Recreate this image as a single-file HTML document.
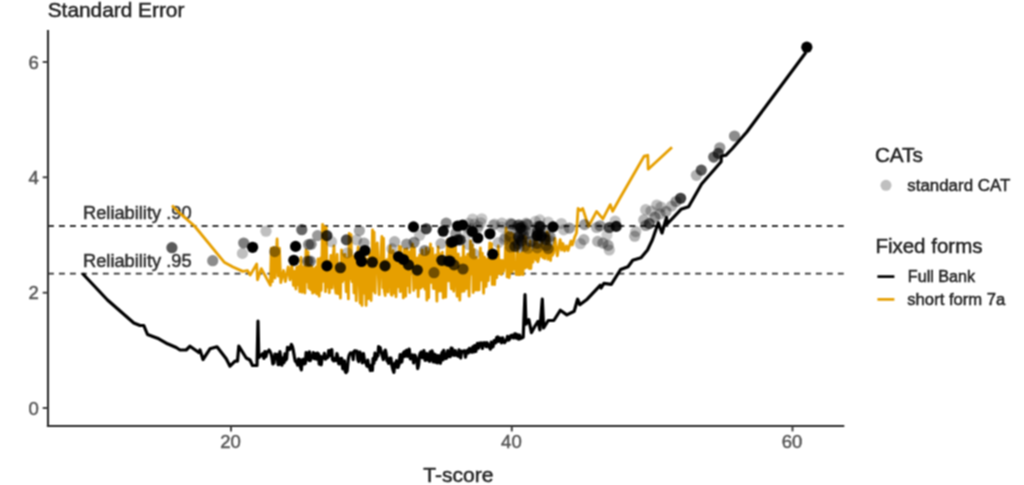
<!DOCTYPE html>
<html lang="en"><head><meta charset="utf-8"><title>Standard Error vs T-score</title>
<style>html,body{margin:0;padding:0;background:#fff;}body{width:1024px;height:485px;overflow:hidden;}svg{display:block;font-family:"Liberation Sans",Arial,Helvetica,sans-serif;}text{stroke-width:.5px;paint-order:stroke;}</style></head><body>
<svg width="1024" height="485" viewBox="0 0 1024 485">
<defs><filter id="soft" x="-2%" y="-2%" width="104%" height="104%" color-interpolation-filters="sRGB"><feConvolveMatrix order="3" kernelMatrix="0.0672 0.1248 0.0672 0.1248 0.2319 0.1248 0.0672 0.1248 0.0672" edgeMode="duplicate" preserveAlpha="true"/></filter></defs>
<rect width="1024" height="485" fill="#fff"/>
<g filter="url(#soft)">
<rect x="-20" y="-20" width="1064" height="525" fill="#fff"/>
<line x1="48.0" y1="226.0" x2="844.3" y2="226.0" stroke="#333" stroke-width="1.8" stroke-dasharray="5.9 5.07"/>
<line x1="48.0" y1="273.7" x2="844.3" y2="273.7" stroke="#333" stroke-width="1.8" stroke-dasharray="5.9 5.07"/>
<text x="83.0" y="219.0" font-size="18.25" fill="#2e2e2e" stroke="#2e2e2e">Reliability .90</text>
<text x="83.0" y="266.8" font-size="18.25" fill="#2e2e2e" stroke="#2e2e2e">Reliability .95</text>
<path d="M82.5 273.5 L107.5 300.0 L133.8 323.0 L140.0 325.5 L143.8 325.5 L147.5 334.5 L158.8 338.8 L167.5 343.8 L176.2 347.5 L180.0 350.0 L186.2 350.0 L190.0 346.2 L198.8 352.5 L200.0 350.0 L203.0 359.5 L210.0 348.8 L217.0 346.8 L226.2 358.8 L230.0 366.2 L235.0 361.2 L237.5 361.2 L238.8 346.2 L246.2 358.0 L250.0 360.0 L252.5 365.5 L257.0 365.5 L258.0 321.2 L258.8 357.5 L262.5 353.8 L264.0 358.4 L264.9 351.5 L265.9 356.6 L267.1 351.9 L268.1 351.6 L269.1 350.0 L269.8 351.1 L270.8 353.1 L271.8 356.8 L272.9 363.9 L273.9 363.1 L275.0 354.0 L276.1 358.0 L277.1 354.4 L278.1 364.7 L279.1 364.4 L279.9 351.7 L280.7 357.4 L281.9 365.2 L283.2 357.9 L284.0 362.6 L284.9 353.8 L285.7 360.2 L286.6 358.9 L287.5 347.3 L288.5 348.0 L289.6 349.5 L290.5 347.5 L291.4 344.5 L292.4 346.7 L293.2 350.0 L294.4 356.8 L295.3 361.1 L296.5 362.2 L297.7 365.2 L298.5 359.0 L299.6 359.5 L300.6 367.5 L301.4 369.9 L302.2 360.1 L303.2 359.3 L304.4 363.9 L305.3 363.3 L306.1 352.5 L307.0 354.4 L307.7 353.1 L308.7 360.3 L309.5 351.9 L310.2 360.7 L311.3 356.9 L312.4 357.5 L313.3 352.5 L314.2 358.7 L315.3 353.6 L316.5 359.1 L317.5 353.1 L318.4 354.0 L319.2 364.2 L320.1 356.1 L321.2 364.9 L322.3 356.9 L323.4 358.2 L324.4 353.3 L325.5 359.2 L326.6 357.9 L327.8 357.5 L328.7 350.5 L329.7 355.6 L330.7 350.4 L331.8 349.7 L332.5 359.7 L333.7 360.9 L334.6 358.4 L335.8 360.6 L336.9 353.5 L337.7 356.7 L338.7 363.9 L339.5 363.9 L340.4 358.8 L341.6 358.3 L342.8 368.9 L343.6 362.7 L344.4 360.9 L345.3 371.5 L346.0 372.6 L347.1 371.0 L348.3 359.1 L349.2 355.1 L350.4 353.0 L351.2 353.4 L352.3 352.9 L353.2 359.6 L354.0 351.6 L354.9 350.7 L355.9 351.5 L356.9 351.1 L357.8 359.5 L358.7 361.5 L359.9 352.0 L360.6 354.1 L361.5 354.5 L362.3 362.9 L363.5 353.7 L364.6 361.8 L365.8 362.8 L367.0 366.1 L367.8 360.0 L368.7 366.8 L369.5 367.2 L370.4 370.5 L371.4 365.2 L372.4 370.4 L373.1 358.4 L373.9 363.4 L375.0 353.2 L375.8 359.7 L376.9 356.3 L377.9 356.0 L378.6 346.5 L379.4 349.1 L380.1 347.5 L380.9 350.8 L382.1 355.1 L383.3 359.5 L384.2 353.0 L385.3 350.1 L386.1 353.7 L387.0 360.7 L387.8 361.4 L388.6 363.3 L389.8 358.1 L390.9 358.0 L391.8 365.2 L392.9 369.4 L393.9 372.4 L394.8 363.2 L395.7 364.3 L396.6 360.7 L397.3 367.3 L398.0 367.4 L399.1 364.0 L400.2 354.5 L400.9 359.0 L401.8 362.0 L402.8 354.1 L404.0 352.0 L404.7 356.4 L405.6 351.2 L406.7 350.3 L407.5 356.3 L408.4 355.2 L409.2 349.0 L410.3 358.9 L411.4 357.6 L412.5 354.9 L413.6 363.0 L414.8 355.1 L415.9 357.1 L416.9 361.5 L417.7 368.6 L418.6 365.0 L419.6 355.3 L420.3 353.0 L421.3 351.9 L422.0 357.6 L422.8 357.6 L423.9 350.7 L425.1 360.3 L425.9 360.1 L426.9 353.7 L427.7 359.9 L428.8 354.1 L429.5 361.3 L430.2 351.8 L431.1 359.6 L432.1 350.9 L433.1 361.8 L434.3 354.0 L435.0 362.1 L435.9 355.1 L436.7 362.6 L437.5 362.9 L438.5 355.5 L439.7 361.4 L440.4 363.3 L441.3 355.0 L442.3 352.1 L443.0 360.0 L443.7 350.4 L444.9 356.1 L445.7 358.5 L446.7 358.0 L447.8 350.7 L448.5 356.4 L449.3 355.6 L450.2 356.5 L451.1 348.1 L452.2 348.3 L452.9 355.0 L454.0 355.3 L455.2 350.6 L456.1 355.0 L457.2 355.5 L458.1 356.1 L459.0 349.9 L459.7 356.4 L460.7 358.0 L461.6 351.0 L462.5 351.8 L463.2 351.9 L464.4 350.7 L465.5 357.2 L466.6 351.8 L467.5 350.2 L468.5 352.9 L469.5 348.4 L470.6 351.2 L471.6 352.2 L472.8 346.8 L473.7 351.9 L474.7 345.6 L475.9 351.4 L476.7 345.5 L477.5 343.4 L478.6 348.2 L479.7 343.1 L480.6 343.2 L481.4 343.0 L482.4 348.4 L483.2 343.2 L484.4 342.6 L485.2 343.4 L486.1 346.7 L487.0 342.7 L487.8 344.1 L488.7 346.9 L489.5 347.2 L490.3 349.2 L491.2 342.2 L492.3 347.1 L493.1 346.6 L494.1 340.5 L494.9 340.5 L495.7 342.9 L496.7 337.4 L497.7 337.0 L498.5 341.5 L499.2 338.1 L500.3 338.1 L501.5 342.8 L502.7 337.9 L503.5 340.8 L504.6 342.6 L505.8 340.6 L506.5 340.2 L507.5 336.3 L508.6 340.1 L509.7 339.0 L510.8 335.5 L512.0 335.2 L513.1 337.9 L514.1 337.8 L514.8 333.8 L515.5 333.9 L516.7 338.2 L517.6 334.7 L518.7 339.2 L519.5 335.0 L520.4 338.6 L523.2 337.2 L525.0 294.5 L526.0 324.2 L528.8 319.6 L531.5 332.6 L535.0 326.0 L538.0 321.4 L539.9 329.8 L542.3 299.2 L543.6 327.9 L548.2 320.5 L553.8 320.5 L560.3 310.3 L566.8 314.9 L574.2 311.2 L577.6 299.2 L579.8 304.7 L587.2 299.2 L600.2 285.3 L601.1 288.0 L603.9 283.4 L611.3 284.3 L620.6 269.5 L628.0 266.7 L632.7 260.2 L641.0 257.8 L647.5 250.0 L652.3 240.0 L658.3 222.8 L662.0 233.0 L666.5 217.5 L667.2 224.0 L681.0 209.3 L688.6 206.8 L701.6 184.0 L721.1 161.7 L721.3 156.2 L725.8 155.3 L732.4 148.5 L746.8 132.0 L767.4 104.3 L806.0 52.2" fill="none" stroke="#000" stroke-width="3.2" stroke-linejoin="round" stroke-linecap="butt"/>
<path d="M172.0 205.5 L180.6 213.9 L194.5 226.0 L224.2 262.2 L233.0 267.0 L242.8 271.4 L247.4 270.5 L250.2 275.1 L256.7 264.0 L257.5 279.8 L261.3 268.6 L270.4 285.3 L271.3 248.2 L272.3 281.6 L273.6 247.3 L275.0 278.0 L277.1 239.0 L278.2 276.0 L279.4 248.2 L280.8 282.6 L283.6 270.5 L285.4 281.6 L288.2 266.8 L290.0 279.8 L291.9 264.0 L293.4 285.3 L294.5 271.3 L295.9 289.0 L296.7 267.5 L297.6 284.9 L298.7 266.5 L299.8 291.8 L301.0 257.5 L302.1 292.3 L303.4 267.0 L304.9 293.0 L306.0 250.0 L307.0 281.8 L308.0 251.8 L308.8 288.1 L309.6 265.2 L310.7 289.7 L311.6 266.4 L312.6 293.1 L313.7 268.6 L314.6 292.1 L316.0 267.1 L316.8 293.9 L318.0 258.8 L319.2 296.2 L320.5 258.2 L321.3 290.4 L322.6 224.5 L323.6 281.4 L324.5 226.7 L325.5 291.7 L326.2 227.5 L327.1 287.1 L328.1 261.0 L329.3 292.8 L330.8 255.3 L332.1 288.0 L333.0 258.6 L334.0 246.0 L335.1 285.9 L335.9 293.2 L337.2 254.5 L338.1 293.8 L339.5 266.0 L340.4 298.1 L341.5 250.0 L342.5 281.7 L343.3 255.0 L344.0 279.5 L344.9 254.4 L346.2 291.8 L347.4 258.3 L348.4 298.9 L349.2 233.5 L349.9 278.9 L351.0 234.7 L352.0 281.7 L353.0 256.4 L354.0 292.9 L355.3 254.4 L356.2 300.7 L357.1 258.9 L358.2 247.0 L359.2 282.0 L360.1 303.0 L361.1 256.1 L362.0 305.4 L363.0 253.8 L364.4 293.3 L365.2 257.1 L366.1 305.4 L367.1 259.4 L368.4 298.6 L369.6 252.9 L371.1 300.5 L372.5 229.8 L373.3 290.9 L374.1 232.2 L375.1 293.1 L375.9 250.1 L377.3 242.8 L378.3 275.2 L379.2 294.7 L380.6 257.0 L381.9 236.3 L382.8 287.7 L383.5 238.3 L384.3 290.8 L385.2 295.5 L386.7 259.7 L388.1 292.0 L389.1 256.5 L390.2 246.0 L391.2 294.5 L391.9 295.2 L393.1 250.7 L394.0 293.0 L394.9 259.1 L396.0 296.8 L397.3 258.8 L398.1 286.8 L399.3 246.5 L400.2 291.6 L400.9 246.9 L401.6 291.2 L402.4 256.0 L403.3 297.9 L404.4 249.3 L405.7 296.2 L406.9 249.0 L407.9 285.5 L408.8 251.9 L409.7 292.5 L411.2 250.5 L412.6 244.0 L413.7 290.4 L414.4 247.8 L415.4 281.5 L416.4 288.0 L417.3 257.9 L418.2 296.7 L419.6 254.9 L420.7 288.1 L422.2 250.0 L423.1 286.5 L424.0 256.3 L425.0 289.1 L426.1 248.1 L426.9 300.2 L427.8 251.9 L428.7 297.6 L429.5 261.2 L430.5 244.0 L431.4 282.3 L432.5 248.5 L433.4 288.4 L434.2 288.6 L435.6 254.8 L436.9 301.2 L438.1 247.0 L439.0 291.2 L439.8 253.9 L441.3 291.0 L442.4 252.2 L443.2 297.9 L444.3 259.3 L445.7 297.2 L446.8 254.5 L447.7 240.0 L448.4 280.9 L449.4 245.8 L450.4 274.7 L451.3 288.8 L452.2 245.9 L453.7 291.3 L454.6 243.8 L455.4 243.0 L456.3 281.3 L457.1 296.3 L458.3 254.0 L459.8 300.1 L461.1 257.9 L462.2 291.4 L463.4 246.0 L464.2 291.2 L465.1 256.9 L466.4 288.5 L467.6 254.2 L469.1 296.1 L470.5 241.0 L471.6 274.1 L472.4 244.9 L473.2 292.5 L473.9 249.3 L474.8 290.1 L476.2 257.3 L477.3 290.1 L478.3 260.1 L479.1 289.9 L480.4 248.0 L481.4 280.1 L482.4 253.2 L483.6 293.3 L484.6 257.2 L486.1 286.5 L487.5 258.8 L488.3 280.6 L489.7 243.0 L490.4 274.3 L491.5 243.6 L492.3 284.5 L493.2 256.7 L494.6 284.7 L495.8 260.5 L496.8 277.7 L498.3 246.0 L499.3 273.4 L500.3 260.4 L501.3 274.5 L502.6 260.3 L503.5 271.4 L505.0 262.2 L506.1 227.8 L507.1 276.9 L508.1 232.1 L509.1 277.5 L510.1 270.6 L511.1 233.0 L512.2 271.9 L513.2 234.4 L514.2 269.1 L515.2 264.0 L516.4 274.5 L517.4 240.0 L518.4 274.8 L519.4 254.4 L520.3 274.6 L521.7 252.9 L523.0 274.7 L524.0 236.0 L524.8 268.2 L525.8 237.3 L526.6 267.3 L527.6 247.4 L529.1 268.4 L530.1 241.0 L530.9 268.5 L531.9 250.9 L533.0 262.1 L534.2 245.7 L535.2 236.0 L536.1 259.8 L536.9 237.9 L537.8 261.8 L538.7 258.6 L539.6 244.8 L540.8 256.1 L542.2 240.0 L543.1 257.6 L543.9 246.2 L544.7 258.5 L546.1 243.0 L547.1 232.0 L547.8 259.3 L548.7 235.0 L549.5 254.5 L550.6 260.5 L551.5 246.4 L552.4 255.4 L553.5 253.0 L555.0 238.5 L557.3 255.8 L558.8 247.0 L560.2 239.6 L561.6 250.0 L563.0 243.5 L564.5 251.0 L566.5 246.0 L568.0 250.5 L569.4 246.0 L571.0 241.0 L572.3 245.0 L574.6 237.3 L576.5 233.0 L578.1 208.5 L580.5 210.5 L582.7 208.5 L588.5 226.4 L596.6 211.4 L602.9 218.9 L610.3 204.6 L612.6 211.3 L620.0 198.0 L644.1 156.2 L647.8 155.3 L648.2 169.2 L672.0 147.3" fill="none" stroke="#E69F00" stroke-width="2.8" stroke-linejoin="round" stroke-linecap="butt"/>
<g fill="#000">
<circle cx="171.9" cy="247.7" r="5.6" fill-opacity="0.65"/>
<circle cx="212.7" cy="260.7" r="5.6" fill-opacity="0.45"/>
<circle cx="243.7" cy="243.0" r="5.6" fill-opacity="0.50"/>
<circle cx="242.4" cy="253.4" r="5.6" fill-opacity="0.25"/>
<circle cx="252.6" cy="247.3" r="5.6" fill-opacity="1.00"/>
<circle cx="266.0" cy="231.2" r="5.6" fill-opacity="0.25"/>
<circle cx="274.7" cy="251.6" r="5.6" fill-opacity="0.40"/>
<circle cx="295.6" cy="246.4" r="5.6" fill-opacity="1.00"/>
<circle cx="293.8" cy="260.3" r="5.6" fill-opacity="1.00"/>
<circle cx="301.8" cy="229.7" r="5.6" fill-opacity="0.60"/>
<circle cx="308.6" cy="244.5" r="5.6" fill-opacity="0.45"/>
<circle cx="307.7" cy="261.2" r="5.6" fill-opacity="0.50"/>
<circle cx="311.1" cy="244.2" r="5.6" fill-opacity="0.45"/>
<circle cx="317.6" cy="235.6" r="5.6" fill-opacity="0.40"/>
<circle cx="326.9" cy="235.6" r="5.6" fill-opacity="0.80"/>
<circle cx="331.5" cy="241.7" r="5.6" fill-opacity="0.25"/>
<circle cx="310.2" cy="261.2" r="5.6" fill-opacity="0.50"/>
<circle cx="326.9" cy="265.9" r="5.6" fill-opacity="1.00"/>
<circle cx="340.4" cy="267.7" r="5.6" fill-opacity="0.80"/>
<circle cx="346.4" cy="239.9" r="5.6" fill-opacity="0.70"/>
<circle cx="347.3" cy="252.9" r="5.6" fill-opacity="0.25"/>
<circle cx="359.4" cy="230.6" r="5.6" fill-opacity="0.35"/>
<circle cx="356.6" cy="239.9" r="5.6" fill-opacity="0.25"/>
<circle cx="364.0" cy="243.0" r="5.6" fill-opacity="0.35"/>
<circle cx="364.9" cy="250.5" r="5.6" fill-opacity="1.00"/>
<circle cx="359.5" cy="256.0" r="5.6" fill-opacity="1.00"/>
<circle cx="361.5" cy="261.5" r="5.6" fill-opacity="1.00"/>
<circle cx="372.4" cy="262.2" r="5.6" fill-opacity="0.90"/>
<circle cx="385.0" cy="265.9" r="5.6" fill-opacity="0.90"/>
<circle cx="394.6" cy="241.7" r="5.6" fill-opacity="0.30"/>
<circle cx="391.8" cy="248.6" r="5.6" fill-opacity="0.25"/>
<circle cx="398.5" cy="256.6" r="5.6" fill-opacity="1.00"/>
<circle cx="403.5" cy="259.5" r="5.6" fill-opacity="1.00"/>
<circle cx="408.5" cy="264.9" r="5.6" fill-opacity="0.90"/>
<circle cx="417.3" cy="270.1" r="5.6" fill-opacity="0.85"/>
<circle cx="406.7" cy="244.0" r="5.6" fill-opacity="0.40"/>
<circle cx="414.1" cy="242.3" r="5.6" fill-opacity="0.45"/>
<circle cx="413.5" cy="226.9" r="5.6" fill-opacity="1.00"/>
<circle cx="419.7" cy="235.3" r="5.6" fill-opacity="0.25"/>
<circle cx="426.2" cy="228.8" r="5.6" fill-opacity="0.75"/>
<circle cx="424.7" cy="250.5" r="5.6" fill-opacity="0.45"/>
<circle cx="434.0" cy="272.7" r="5.6" fill-opacity="0.50"/>
<circle cx="446.2" cy="223.2" r="5.6" fill-opacity="0.45"/>
<circle cx="443.2" cy="231.2" r="5.6" fill-opacity="0.95"/>
<circle cx="451.2" cy="242.3" r="5.6" fill-opacity="0.90"/>
<circle cx="441.0" cy="243.6" r="5.6" fill-opacity="0.30"/>
<circle cx="441.9" cy="260.3" r="5.6" fill-opacity="0.90"/>
<circle cx="448.4" cy="261.2" r="5.6" fill-opacity="0.80"/>
<circle cx="457.7" cy="226.0" r="5.6" fill-opacity="1.00"/>
<circle cx="455.8" cy="233.4" r="5.6" fill-opacity="0.40"/>
<circle cx="457.7" cy="239.9" r="5.6" fill-opacity="0.80"/>
<circle cx="454.0" cy="264.9" r="5.6" fill-opacity="0.70"/>
<circle cx="462.6" cy="225.0" r="5.6" fill-opacity="1.00"/>
<circle cx="472.3" cy="231.5" r="5.6" fill-opacity="1.00"/>
<circle cx="477.8" cy="238.0" r="5.6" fill-opacity="1.00"/>
<circle cx="452.8" cy="241.7" r="5.6" fill-opacity="1.00"/>
<circle cx="460.2" cy="239.9" r="5.6" fill-opacity="0.80"/>
<circle cx="489.9" cy="233.8" r="5.6" fill-opacity="1.00"/>
<circle cx="492.7" cy="254.2" r="5.6" fill-opacity="1.00"/>
<circle cx="463.0" cy="269.0" r="5.6" fill-opacity="0.60"/>
<circle cx="450.0" cy="261.2" r="5.6" fill-opacity="0.90"/>
<circle cx="553.0" cy="226.9" r="5.6" fill-opacity="1.00"/>
<circle cx="537.2" cy="235.6" r="5.6" fill-opacity="0.90"/>
<circle cx="520.5" cy="227.8" r="5.6" fill-opacity="0.80"/>
<circle cx="518.6" cy="237.1" r="5.6" fill-opacity="0.70"/>
<circle cx="514.9" cy="246.4" r="5.6" fill-opacity="0.60"/>
<circle cx="806.8" cy="47.2" r="5.6" fill-opacity="1.00"/>
<circle cx="734.5" cy="136.0" r="5.6" fill-opacity="0.45"/>
<circle cx="719.8" cy="147.8" r="5.6" fill-opacity="0.40"/>
<circle cx="718.3" cy="153.4" r="5.6" fill-opacity="0.65"/>
<circle cx="713.7" cy="157.1" r="5.6" fill-opacity="0.60"/>
<circle cx="701.3" cy="170.1" r="5.6" fill-opacity="0.65"/>
<circle cx="696.4" cy="175.3" r="5.6" fill-opacity="0.30"/>
<circle cx="680.6" cy="198.3" r="5.6" fill-opacity="0.75"/>
<circle cx="676.0" cy="201.5" r="5.6" fill-opacity="0.40"/>
<circle cx="671.6" cy="206.0" r="5.6" fill-opacity="0.30"/>
<circle cx="666.0" cy="211.5" r="5.6" fill-opacity="0.35"/>
<circle cx="656.8" cy="205.0" r="5.6" fill-opacity="0.25"/>
<circle cx="645.7" cy="209.7" r="5.6" fill-opacity="0.25"/>
<circle cx="654.9" cy="217.1" r="5.6" fill-opacity="0.40"/>
<circle cx="649.4" cy="223.6" r="5.6" fill-opacity="0.60"/>
<circle cx="643.8" cy="219.9" r="5.6" fill-opacity="0.30"/>
<circle cx="645.7" cy="225.5" r="5.6" fill-opacity="0.40"/>
<circle cx="661.0" cy="207.0" r="5.6" fill-opacity="0.25"/>
<circle cx="651.0" cy="211.0" r="5.6" fill-opacity="0.25"/>
<circle cx="660.0" cy="214.0" r="5.6" fill-opacity="0.30"/>
<circle cx="494.5" cy="224.1" r="5.6" fill-opacity="0.25"/>
<circle cx="501.9" cy="223.2" r="5.6" fill-opacity="0.25"/>
<circle cx="512.2" cy="224.1" r="5.6" fill-opacity="0.25"/>
<circle cx="526.1" cy="223.2" r="5.6" fill-opacity="0.25"/>
<circle cx="539.1" cy="226.0" r="5.6" fill-opacity="0.25"/>
<circle cx="544.6" cy="237.1" r="5.6" fill-opacity="0.25"/>
<circle cx="548.3" cy="248.2" r="5.6" fill-opacity="0.25"/>
<circle cx="505.7" cy="237.1" r="5.6" fill-opacity="0.25"/>
<circle cx="498.2" cy="242.7" r="5.6" fill-opacity="0.25"/>
<circle cx="468.6" cy="244.5" r="5.6" fill-opacity="0.25"/>
<circle cx="474.1" cy="253.8" r="5.6" fill-opacity="0.25"/>
<circle cx="531.6" cy="241.7" r="5.6" fill-opacity="0.25"/>
<circle cx="538.1" cy="243.6" r="5.6" fill-opacity="0.25"/>
<circle cx="520.5" cy="233.4" r="5.6" fill-opacity="0.25"/>
<circle cx="514.9" cy="239.9" r="5.6" fill-opacity="0.25"/>
<circle cx="527.9" cy="248.2" r="5.6" fill-opacity="0.25"/>
<circle cx="561.4" cy="223.5" r="5.6" fill-opacity="0.25"/>
<circle cx="563.7" cy="229.8" r="5.6" fill-opacity="0.25"/>
<circle cx="569.4" cy="228.1" r="5.6" fill-opacity="0.40"/>
<circle cx="584.5" cy="224.6" r="5.6" fill-opacity="0.40"/>
<circle cx="583.9" cy="239.6" r="5.6" fill-opacity="0.30"/>
<circle cx="580.4" cy="243.7" r="5.6" fill-opacity="0.25"/>
<circle cx="596.6" cy="227.5" r="5.6" fill-opacity="0.30"/>
<circle cx="600.0" cy="225.8" r="5.6" fill-opacity="0.40"/>
<circle cx="609.3" cy="227.5" r="5.6" fill-opacity="0.70"/>
<circle cx="616.2" cy="226.4" r="5.6" fill-opacity="0.90"/>
<circle cx="615.1" cy="221.2" r="5.6" fill-opacity="0.25"/>
<circle cx="597.7" cy="241.4" r="5.6" fill-opacity="0.30"/>
<circle cx="602.9" cy="243.1" r="5.6" fill-opacity="0.35"/>
<circle cx="608.1" cy="245.4" r="5.6" fill-opacity="0.35"/>
<circle cx="609.3" cy="250.0" r="5.6" fill-opacity="0.25"/>
<circle cx="607.0" cy="235.0" r="5.6" fill-opacity="0.20"/>
<circle cx="634.7" cy="236.2" r="5.6" fill-opacity="0.30"/>
<circle cx="635.8" cy="231.6" r="5.6" fill-opacity="0.25"/>
<circle cx="540.0" cy="226.4" r="5.6" fill-opacity="0.80"/>
<circle cx="541.2" cy="236.2" r="5.6" fill-opacity="0.80"/>
<circle cx="545.8" cy="239.6" r="5.6" fill-opacity="0.40"/>
<circle cx="548.1" cy="248.9" r="5.6" fill-opacity="0.25"/>
<circle cx="501.9" cy="227.2" r="5.6" fill-opacity="0.22"/>
<circle cx="517.2" cy="225.8" r="5.6" fill-opacity="0.22"/>
<circle cx="469.2" cy="228.8" r="5.6" fill-opacity="0.22"/>
<circle cx="539.8" cy="219.9" r="5.6" fill-opacity="0.22"/>
<circle cx="470.5" cy="228.7" r="5.6" fill-opacity="0.22"/>
<circle cx="510.6" cy="223.3" r="5.6" fill-opacity="0.22"/>
<circle cx="478.4" cy="226.3" r="5.6" fill-opacity="0.22"/>
<circle cx="526.3" cy="224.1" r="5.6" fill-opacity="0.22"/>
<circle cx="472.6" cy="219.0" r="5.6" fill-opacity="0.22"/>
<circle cx="468.6" cy="223.3" r="5.6" fill-opacity="0.22"/>
<circle cx="480.8" cy="222.8" r="5.6" fill-opacity="0.22"/>
<circle cx="525.4" cy="230.7" r="5.6" fill-opacity="0.22"/>
<circle cx="474.2" cy="224.1" r="5.6" fill-opacity="0.22"/>
<circle cx="549.7" cy="236.6" r="5.6" fill-opacity="0.22"/>
<circle cx="477.6" cy="228.3" r="5.6" fill-opacity="0.22"/>
<circle cx="493.2" cy="225.3" r="5.6" fill-opacity="0.22"/>
<circle cx="481.8" cy="218.8" r="5.6" fill-opacity="0.22"/>
<circle cx="468.1" cy="233.3" r="5.6" fill-opacity="0.22"/>
<circle cx="517.6" cy="228.2" r="5.6" fill-opacity="0.22"/>
<circle cx="548.2" cy="222.0" r="5.6" fill-opacity="0.22"/>
<circle cx="540.1" cy="227.6" r="5.6" fill-opacity="0.22"/>
<circle cx="535.4" cy="221.4" r="5.6" fill-opacity="0.22"/>
<circle cx="518.7" cy="224.8" r="5.6" fill-opacity="0.33"/>
<circle cx="519.5" cy="239.0" r="5.6" fill-opacity="0.33"/>
<circle cx="520.5" cy="240.8" r="5.6" fill-opacity="0.33"/>
<circle cx="518.0" cy="243.8" r="5.6" fill-opacity="0.33"/>
<circle cx="519.1" cy="225.2" r="5.6" fill-opacity="0.33"/>
<circle cx="518.9" cy="247.2" r="5.6" fill-opacity="0.33"/>
<circle cx="523.4" cy="234.5" r="5.6" fill-opacity="0.33"/>
<circle cx="521.5" cy="241.1" r="5.6" fill-opacity="0.33"/>
<circle cx="524.5" cy="246.2" r="5.6" fill-opacity="0.33"/>
<circle cx="522.2" cy="226.3" r="5.6" fill-opacity="0.33"/>
<circle cx="522.9" cy="230.4" r="5.6" fill-opacity="0.33"/>
<circle cx="536.8" cy="235.2" r="5.6" fill-opacity="0.33"/>
<circle cx="537.3" cy="247.9" r="5.6" fill-opacity="0.33"/>
<circle cx="536.2" cy="243.2" r="5.6" fill-opacity="0.33"/>
<circle cx="537.2" cy="226.9" r="5.6" fill-opacity="0.33"/>
<circle cx="537.4" cy="230.9" r="5.6" fill-opacity="0.33"/>
<circle cx="510.2" cy="236.4" r="5.6" fill-opacity="0.33"/>
<circle cx="510.5" cy="247.0" r="5.6" fill-opacity="0.33"/>
<circle cx="511.2" cy="224.4" r="5.6" fill-opacity="0.33"/>
<circle cx="527.6" cy="224.6" r="5.6" fill-opacity="0.33"/>
<circle cx="530.1" cy="241.5" r="5.6" fill-opacity="0.33"/>
<circle cx="529.4" cy="233.5" r="5.6" fill-opacity="0.33"/>
<circle cx="544.4" cy="239.2" r="5.6" fill-opacity="0.33"/>
<circle cx="546.4" cy="245.5" r="5.6" fill-opacity="0.33"/>
<circle cx="545.3" cy="231.5" r="5.6" fill-opacity="0.33"/>
<circle cx="549.2" cy="240.4" r="5.6" fill-opacity="0.28"/>
<circle cx="537.3" cy="232.4" r="5.6" fill-opacity="0.28"/>
<circle cx="550.2" cy="236.7" r="5.6" fill-opacity="0.28"/>
<circle cx="504.3" cy="239.4" r="5.6" fill-opacity="0.28"/>
<circle cx="541.3" cy="235.0" r="5.6" fill-opacity="0.28"/>
<circle cx="523.8" cy="237.2" r="5.6" fill-opacity="0.28"/>
<circle cx="512.7" cy="229.5" r="5.6" fill-opacity="0.28"/>
<circle cx="538.8" cy="233.6" r="5.6" fill-opacity="0.28"/>
</g>
<line x1="48" y1="30" x2="48" y2="427" stroke="#2b2b2b" stroke-width="2.1"/>
<line x1="46.9" y1="426.0" x2="844.3" y2="426.0" stroke="#2b2b2b" stroke-width="2.1"/>
<line x1="42.7" y1="62.0" x2="48" y2="62.0" stroke="#3a3a3a" stroke-width="1.9"/>
<text x="38.7" y="68.6" font-size="18.5" fill="#555" stroke="#555" text-anchor="end">6</text>
<line x1="42.7" y1="177.3" x2="48" y2="177.3" stroke="#3a3a3a" stroke-width="1.9"/>
<text x="38.7" y="183.9" font-size="18.5" fill="#555" stroke="#555" text-anchor="end">4</text>
<line x1="42.7" y1="292.7" x2="48" y2="292.7" stroke="#3a3a3a" stroke-width="1.9"/>
<text x="38.7" y="299.3" font-size="18.5" fill="#555" stroke="#555" text-anchor="end">2</text>
<line x1="42.7" y1="408.0" x2="48" y2="408.0" stroke="#3a3a3a" stroke-width="1.9"/>
<text x="38.7" y="414.6" font-size="18.5" fill="#555" stroke="#555" text-anchor="end">0</text>
<line x1="231.0" y1="426" x2="231.0" y2="431.4" stroke="#3a3a3a" stroke-width="1.9"/>
<text x="230.6" y="447.9" font-size="18.5" fill="#555" stroke="#555" text-anchor="middle">20</text>
<line x1="511.8" y1="426" x2="511.8" y2="431.4" stroke="#3a3a3a" stroke-width="1.9"/>
<text x="511.4" y="447.9" font-size="18.5" fill="#555" stroke="#555" text-anchor="middle">40</text>
<line x1="792.5" y1="426" x2="792.5" y2="431.4" stroke="#3a3a3a" stroke-width="1.9"/>
<text x="792.1" y="447.9" font-size="18.5" fill="#555" stroke="#555" text-anchor="middle">60</text>
<text x="47.7" y="16.7" font-size="20.85" fill="#222" stroke="#222">Standard Error</text>
<text x="458.4" y="482.2" font-size="21.05" fill="#222" stroke="#222" text-anchor="middle">T-score</text>
<text x="874.9" y="162.2" font-size="20.7" fill="#222" stroke="#222">CATs</text>
<circle cx="886" cy="185.3" r="5.5" fill="#000" fill-opacity=".25"/>
<text x="907.3" y="191.1" font-size="16.9" fill="#222" stroke="#222">standard CAT</text>
<text x="875.4" y="253.2" font-size="20.5" fill="#222" stroke="#222">Fixed forms</text>
<line x1="877.4" y1="276.6" x2="894.4" y2="276.6" stroke="#000" stroke-width="2.7"/>
<text x="907.8" y="282.3" font-size="16.15" fill="#222" stroke="#222">Full Bank</text>
<line x1="877.4" y1="299.4" x2="894.4" y2="299.4" stroke="#E69F00" stroke-width="2.7"/>
<text x="907.3" y="305.4" font-size="16.65" fill="#222" stroke="#222">short form 7a</text>
</g>
</svg></body></html>
